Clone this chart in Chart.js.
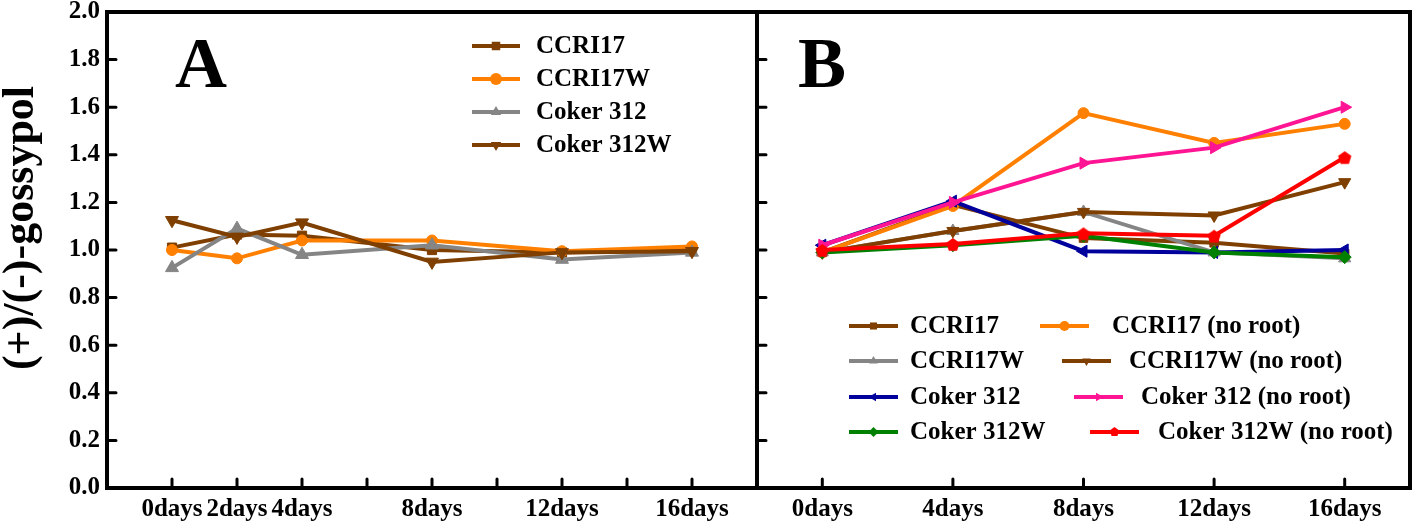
<!DOCTYPE html>
<html>
<head>
<meta charset="utf-8">
<script src="https://cdn.jsdelivr.net/npm/chart.js@4.4.1/dist/chart.umd.min.js"></script>
<style>
  body { margin: 0; background: #fff; width: 1418px; height: 529px; overflow: hidden; position: relative; }
  canvas { position: absolute; top: 0; }
  #chartA { left: 0; }
  #chartB { left: 740px; }
</style>
</head>
<body>
<canvas id="chartA" width="760" height="529"></canvas>
<canvas id="chartB" width="678" height="529"></canvas>
<script>
"use strict";
// panel A
const aDays = [0, 2, 4, 8, 12, 16];
const aAxisTicks = [0, 2, 4, 6, 8, 10, 12, 14, 16];
const aCCRI17 = [1.01, 1.065, 1.06, 1.00, 0.99, 1.00];
const aCCRI17W = [1.00, 0.965, 1.04, 1.04, 0.995, 1.015];
const aCoker312 = [0.925, 1.09, 0.98, 1.02, 0.96, 0.99];
const aCoker312W = [1.125, 1.055, 1.115, 0.95, 0.99, 0.995];

// panel B
const bDays = [0, 4, 8, 12, 16];
const bCCRI17 = [0.99, 1.19, 1.05, 1.03, 0.985];
const bCCRI17NoRoot = [0.99, 1.185, 1.575, 1.45, 1.53];
const bCCRI17W = [0.99, 1.08, 1.16, 0.99, 0.965];
const bCCRI17WNoRoot = [0.99, 1.08, 1.16, 1.145, 1.285];
const bCoker312 = [1.02, 1.205, 0.995, 0.99, 1.0];
const bCoker312NoRoot = [1.02, 1.20, 1.365, 1.43, 1.60];
const bCoker312W = [0.99, 1.02, 1.06, 0.99, 0.97];
const bCoker312WNoRoot = [1.00, 1.025, 1.07, 1.06, 1.39];

const yTicks = [0, 0.2, 0.4, 0.6, 0.8, 1.0, 1.2, 1.4, 1.6, 1.8, 2.0];
const yTitle = "(+)/(-)-gossypol";

const SERIF = "'Liberation Serif', 'Times New Roman', serif";
const BROWN = "#7f3f00";
const ORANGE = "#ff8000";
const GRAY = "#858585";
const BLUE = "#00009c";
const PINK = "#ff1493";
const GREEN = "#008000";
const RED = "#ff0000";

function markerPath(ctx, style, rot, r, x, y, color) {
    ctx.save();
    ctx.translate(x, y);
    ctx.rotate((rot || 0) * Math.PI / 180);
    ctx.fillStyle = color;
    ctx.beginPath();
    if (style === "circle") {
        ctx.arc(0, 0, r, 0, Math.PI * 2);
    } else if (style === "rect") {
        const s = r * Math.SQRT1_2;
        ctx.rect(-s, -s, 2 * s, 2 * s);
    } else if (style === "rectRot") {
        ctx.moveTo(0, -r); ctx.lineTo(r, 0); ctx.lineTo(0, r); ctx.lineTo(-r, 0);
    } else if (style === "triangle") {
        for (let k = 0; k < 3; k++) {
            const a = k * 2 * Math.PI / 3;
            ctx[k ? "lineTo" : "moveTo"](Math.sin(a) * r, -Math.cos(a) * r);
        }
    } else {
        for (let k = 0; k < 5; k++) {
            const a = k * 2 * Math.PI / 5;
            ctx[k ? "lineTo" : "moveTo"](Math.sin(a) * r, -Math.cos(a) * r);
        }
    }
    ctx.closePath();
    ctx.fill();
    ctx.restore();
}

function pentagonImage(color, r) {
    const c = document.createElement("canvas");
    c.width = c.height = Math.ceil(r * 2 + 2);
    markerPath(c.getContext("2d"), "pentagon", 0, r, c.width / 2, c.height / 2 + 1, color);
    return c;
}

function series(label, days, values, color, style, rot, radius) {
    return {
        label: label,
        data: days.map((d, i) => ({ x: d, y: values[i] })),
        borderColor: color,
        backgroundColor: color,
        pointBackgroundColor: color,
        pointBorderColor: color,
        pointBorderWidth: 1,
        borderWidth: 4,
        pointStyle: style,
        rotation: rot,
        pointRadius: radius,
        tension: 0,
        legendStyle: typeof style === "string" ? style : "pentagon",
    };
}

const framePlugin = {
    id: "frame",
    afterDraw(chart, args, opts) {
        const ctx = chart.ctx;
        const a = chart.chartArea;
        const xs = chart.scales.x, ys = chart.scales.y;
        ctx.save();
        ctx.strokeStyle = "#000";
        ctx.lineWidth = 3;
        ctx.lineCap = "round";
        ctx.beginPath();
        xs.ticks.forEach(t => {
            const px = xs.getPixelForValue(t.value);
            ctx.moveTo(px, a.bottom); ctx.lineTo(px, a.bottom - 9);
        });
        ys.ticks.forEach(t => {
            const py = ys.getPixelForValue(t.value);
            ctx.moveTo(a.left, py); ctx.lineTo(a.left + 9, py);
        });
        ctx.stroke();
        ctx.lineWidth = 4;
        ctx.lineCap = "butt";
        ctx.strokeRect(a.left, a.top, a.right - a.left, a.bottom - a.top);

        ctx.fillStyle = "#000";
        ctx.font = "bold 72px " + SERIF;
        ctx.textAlign = "center";
        ctx.textBaseline = "alphabetic";
        ctx.fillText(opts.letter, opts.letterX, opts.letterY);

        if (opts.title) {
            ctx.save();
            ctx.translate(opts.title.x, opts.title.y);
            ctx.rotate(-Math.PI / 2);
            ctx.font = "bold 44px " + SERIF;
            ctx.textBaseline = "middle";
            ctx.fillText(opts.title.text, 0, 0);
            ctx.restore();
        }

        ctx.font = "bold 25px " + SERIF;
        ctx.textAlign = "left";
        ctx.textBaseline = "middle";
        chart.data.datasets.forEach((ds, i) => {
            const it = opts.legend[i];
            ctx.strokeStyle = ds.borderColor;
            ctx.lineWidth = 4;
            ctx.beginPath();
            ctx.moveTo(it.x1, it.y); ctx.lineTo(it.x2, it.y);
            ctx.stroke();
            markerPath(ctx, ds.legendStyle, ds.rotation, opts.legendR, (it.x1 + it.x2) / 2, it.y, ds.borderColor);
            ctx.fillStyle = "#000";
            ctx.fillText(ds.label, it.tx, it.y + 1);
        });
        ctx.restore();
    }
};

function xScale(days, tickValues, labelFn) {
    return {
        type: "linear",
        min: -2,
        max: 18,
        grid: { display: false, drawTicks: false },
        border: { display: false },
        afterBuildTicks: s => { s.ticks = tickValues.map(v => ({ value: v })); },
        afterFit: s => { s.height = 41; s.paddingLeft = 0; s.paddingRight = 0; },
        ticks: {
            autoSkip: false,
            maxRotation: 0,
            padding: 7,
            color: "#000",
            font: { family: SERIF, size: 25, weight: "bold" },
            callback: v => labelFn(v),
        },
    };
}

function yScale(showLabels, width) {
    return {
        min: 0,
        max: 2,
        grid: { display: false, drawTicks: false },
        border: { display: false },
        afterBuildTicks: s => { s.ticks = yTicks.map(v => ({ value: v })); },
        afterFit: s => { s.width = width; s.paddingTop = 0; s.paddingBottom = 0; },
        ticks: {
            display: showLabels,
            padding: 7,
            color: "#000",
            font: { family: SERIF, size: 25, weight: "bold" },
            callback: v => v.toFixed(1),
        },
    };
}

const commonOpts = {
    responsive: false,
    animation: false,
    events: [],
    plugins: { legend: { display: false }, tooltip: { enabled: false } },
};

const dsA = [
    series("CCRI17", aDays, aCCRI17, BROWN, "rect", 0, 6.5),
    series("CCRI17W", aDays, aCCRI17W, ORANGE, "circle", 0, 5.5),
    series("Coker 312", aDays, aCoker312, GRAY, "triangle", 0, 7.5),
    series("Coker 312W", aDays, aCoker312W, BROWN, "triangle", 180, 7.5),
];
dsA.forEach((d, i) => { d.order = -i; });

new Chart("chartA", {
    type: "line",
    data: { datasets: dsA },
    options: Object.assign({}, commonOpts, {
        layout: { autoPadding: false, padding: { top: 12, right: 3, left: 0, bottom: 0 } },
        scales: {
            x: xScale(aDays, aAxisTicks, v => {
                const k = aDays.indexOf(v);
                return k >= 0 ? aDays[k] + "days" : "";
            }),
            y: yScale(true, 107),
        },
        plugins: Object.assign({}, commonOpts.plugins, {
            frame: {
                letter: "A", letterX: 201, letterY: 87, legendR: 6,
                title: { text: yTitle, x: 22, y: 228 },
                legend: [
                    { x1: 472, x2: 520, tx: 536, y: 46 },
                    { x1: 472, x2: 520, tx: 536, y: 79 },
                    { x1: 472, x2: 520, tx: 536, y: 112 },
                    { x1: 472, x2: 520, tx: 536, y: 145 },
                ],
            },
        }),
    }),
    plugins: [framePlugin],
});

const dsB = [
    series("CCRI17", bDays, bCCRI17, BROWN, "rect", 0, 6),
    series("CCRI17 (no root)", bDays, bCCRI17NoRoot, ORANGE, "circle", 0, 5.5),
    series("CCRI17W", bDays, bCCRI17W, GRAY, "triangle", 0, 7),
    series("CCRI17W (no root)", bDays, bCCRI17WNoRoot, BROWN, "triangle", 180, 7),
    series("Coker 312", bDays, bCoker312, BLUE, "triangle", 270, 7),
    series("Coker 312 (no root)", bDays, bCoker312NoRoot, PINK, "triangle", 90, 7),
    series("Coker 312W", bDays, bCoker312W, GREEN, "rectRot", 0, 6.5),
    series("Coker 312W (no root)", bDays, bCoker312WNoRoot, RED, pentagonImage(RED, 7), 0, 7),
];
dsB.forEach((d, i) => { d.order = -i; });

new Chart("chartB", {
    type: "line",
    data: { datasets: dsB },
    options: Object.assign({}, commonOpts, {
        layout: { autoPadding: false, padding: { top: 12, right: 8, left: 0, bottom: 0 } },
        scales: {
            x: xScale(bDays, bDays, v => v + "days"),
            y: yScale(false, 17),
        },
        plugins: Object.assign({}, commonOpts.plugins, {
            frame: {
                letter: "B", letterX: 82, letterY: 87, legendR: 5,
                legend: [
                    { x1: 109, x2: 158, tx: 170, y: 326 },
                    { x1: 300, x2: 349, tx: 372, y: 326 },
                    { x1: 109, x2: 158, tx: 170, y: 361 },
                    { x1: 322, x2: 371, tx: 389, y: 361 },
                    { x1: 109, x2: 158, tx: 170, y: 397 },
                    { x1: 334, x2: 383, tx: 401, y: 397 },
                    { x1: 109, x2: 158, tx: 170, y: 432 },
                    { x1: 350, x2: 399, tx: 418, y: 432 },
                ],
            },
        }),
    }),
    plugins: [framePlugin],
});
</script>
</body>
</html>
